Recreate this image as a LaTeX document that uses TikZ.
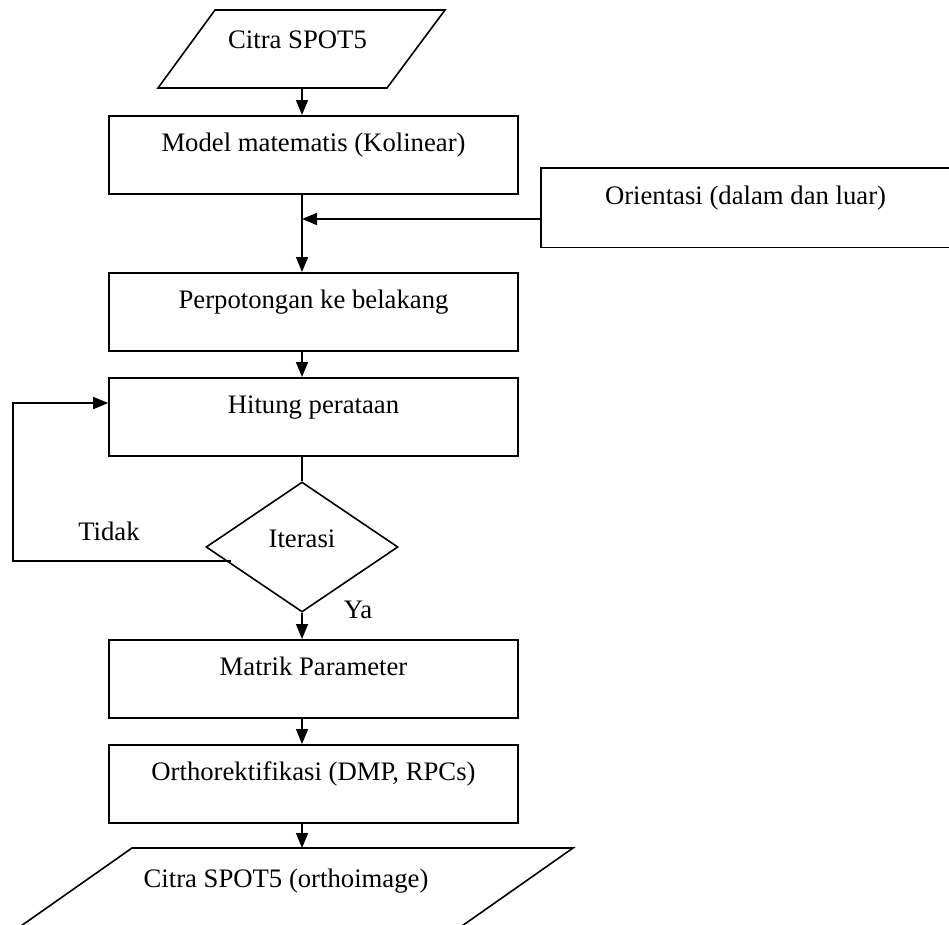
\documentclass[tikz,border=0pt]{standalone}
\usepackage{fontspec}
\setmainfont{Liberation Serif}
\usetikzlibrary{shapes.geometric,arrows.meta}
\begin{document}
\begin{tikzpicture}[x=1pt,y=-1pt,
  every node/.style={font=\fontsize{26.7}{32}\selectfont},
  ln/.style={line width=1.6pt},
  procbox/.style={draw, ln, inner sep=0pt, minimum width=409pt, text height=36pt, text depth=42pt, anchor=north},
  arr/.style={ln, -{Triangle[length=15pt,width=12pt]}}]
\clip (0,0) rectangle (949,924);
% input parallelogram
\draw[ln] (215,10) -- (445,10) -- (387,88) -- (158,88) -- cycle;
\node[anchor=base] (p1) at (297.5,48) {Citra SPOT5};
\coordinate (p1s) at (302,88);
% process boxes
\node[procbox] (b1) at (313.5,115) {Model matematis (Kolinear)};
\node[procbox, draw=none, minimum width=407pt] (ori) at (745.5,168) {Orientasi (dalam dan luar)};
\coordinate (tail) at (980,0);
\draw[ln] (ori.north east -| tail) -- (ori.north west) -- (ori.south west) -- (ori.south east -| tail);
\node[procbox] (b2) at (313.5,272) {Perpotongan ke belakang};
\node[procbox] (b3) at (313.5,377) {Hitung perataan};
\node[diamond, draw, ln, inner sep=0pt, minimum width=192pt, minimum height=130pt, text height=10pt, text depth=10pt] (it) at (302,547) {Iterasi};
\node[procbox] (b4) at (313.5,639) {Matrik Parameter};
\node[procbox] (b5) at (313.5,744) {Orthorektifikasi (DMP, RPCs)};
% output parallelogram
\draw[ln] (132,848) -- (573,848) -- (442,940) -- (1,940) -- cycle;
\node[anchor=base] (p2) at (286,887) {Citra SPOT5 (orthoimage)};
\coordinate (p2n) at (302,848);
% labels
\node[anchor=base] (tidak) at (109,540) {Tidak};
\node[anchor=base] (ya) at (358,618) {Ya};
% connectors
\draw[arr] (p1s) -- (b1.north -| p1s);
\draw[arr] (b1.south -| p1s) -- (b2.north -| p1s);
\coordinate (oa) at (542,219);
\draw[arr] (oa) -- (oa -| p1s);
\draw[arr] (b2.south -| p1s) -- (b3.north -| p1s);
\draw[ln] (b3.south -| p1s) -- (it.north);
\coordinate (lp) at (231,561);
\coordinate (lc) at (13,403);
\draw[arr] (lp) -| (lc) -- (lc -| b3.west);
\draw[arr] (it.south) -- (b4.north -| p1s);
\draw[arr] (b4.south -| p1s) -- (b5.north -| p1s);
\draw[arr] (b5.south -| p1s) -- (p2n);
\end{tikzpicture}
\end{document}
